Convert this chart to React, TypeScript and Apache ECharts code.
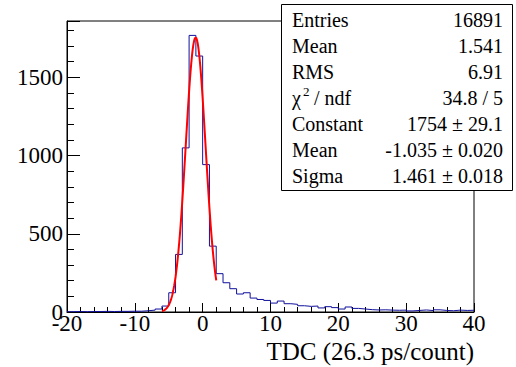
import React, { useEffect, useRef } from "react";
import * as echarts from "echarts";

// Histogram: bins of width 1 starting at -20
const binStart = -20;
const binWidth = 1;
const binCounts = [
  2, 3, 2, 3, 3, 4, 3, 4, 4, 5,
  5, 8, 12, 19, 38, 123, 368, 1049, 1768, 1636,
  942, 421, 245, 187, 149, 115, 123, 89, 80, 74,
  57, 70, 53, 49, 40, 36, 38, 26, 34, 28,
  19, 32, 23, 19, 15, 13, 14, 12, 11, 12,
  7, 10, 13, 9, 14, 10, 8, 12, 10, 11,
];

// Axis ranges / ticks
const xMin = -20;
const xMax = 40;
const xInterval = 10;
const yMin = 0;
const yMax = 1860;
const yInterval = 500;
const yMinorInterval = 100;

// Gaussian fit parameters (from stats box)
const fitConstant = 1754;
const fitMean = -1.035;
const fitSigma = 1.461;
const fitRange = [-6, 2];

// Stats box
const statsLabels = ["Entries", "Mean", "RMS", "χ2 / ndf", "Constant", "Mean", "Sigma"];
const statsValues = ["16891", "1.541", "6.91", "34.8 / 5", "1754 ± 29.1", "-1.035 ± 0.020", "1.461 ± 0.018"];

const xTitle = "TDC (26.3 ps/count)";

const FONT = "Liberation Serif";

export default function App() {
  const ref = useRef<HTMLDivElement>(null);
  useEffect(() => {
    if (!ref.current) return;
    const chart = echarts.init(ref.current, null, { renderer: "svg" });

    const stepData: number[][] = [];
    binCounts.forEach((c, i) => {
      const lo = binStart + i * binWidth;
      stepData.push([lo, c], [lo + binWidth, c]);
    });

    const fitData: number[][] = [];
    const nPts = 160;
    for (let k = 0; k <= nPts; k++) {
      const x = fitRange[0] + ((fitRange[1] - fitRange[0]) * k) / nPts;
      const z = (x - fitMean) / fitSigma;
      fitData.push([x, fitConstant * Math.exp(-0.5 * z * z)]);
    }

    const boxX = 281.5, boxY = 4.5, boxW = 231, boxH = 186;
    const rowY0 = 20, rowStep = 26;
    const leftX = 292, rightX = 503;

    const txt = (text: string, x: number, y: number, size: number, align: string) => ({
      type: "text",
      z: 101,
      x,
      y,
      style: { text, fontFamily: FONT, fontSize: size, fill: "#000", verticalAlign: "middle", align },
    });

    const graphics: any[] = [
      {
        type: "rect",
        z: 100,
        shape: { x: boxX, y: boxY, width: boxW, height: boxH },
        style: { fill: "#fff", stroke: "#000", lineWidth: 1 },
      },
    ];
    statsLabels.forEach((lab, i) => {
      const y = rowY0 + i * rowStep;
      if (lab.startsWith("χ2")) {
        graphics.push(
          txt("χ", leftX, y, 20, "left"),
          txt("2", leftX + 11, y - 7, 13, "left"),
          txt("/ ndf", leftX + 22, y, 20, "left")
        );
      } else {
        graphics.push(txt(lab, leftX, y, 20, "left"));
      }
      graphics.push(txt(statsValues[i], rightX, y, 20, "right"));
    });
    graphics.push(txt(xTitle, 474, 351, 25, "right"));

    chart.setOption({
      animation: false,
      backgroundColor: "#fff",
      grid: {
        left: 67,
        right: 42,
        top: 21,
        bottom: 55,
        show: true,
        borderColor: "#000",
        borderWidth: 1,
        backgroundColor: "transparent",
      },
      xAxis: {
        type: "value",
        min: xMin,
        max: xMax,
        interval: xInterval,
        axisLine: { show: true, onZero: false, lineStyle: { color: "#000", width: 1 } },
        axisTick: { show: true, inside: true, length: 9, lineStyle: { color: "#000" } },
        minorTick: { show: true, splitNumber: 5, length: 5, lineStyle: { color: "#000" } },
        splitLine: { show: false },
        axisLabel: { color: "#000", fontFamily: FONT, fontSize: 23, margin: 0 },
      },
      yAxis: [
        {
          type: "value",
          min: yMin,
          max: yMax,
          interval: yInterval,
          axisLine: { show: true, onZero: false, lineStyle: { color: "#000", width: 1 } },
          axisTick: { show: true, inside: true, length: 13, lineStyle: { color: "#000" } },
          splitLine: { show: false },
          axisLabel: {
            color: "#000",
            fontFamily: FONT,
            fontSize: 23,
            margin: 4,
            formatter: (v: number) => (v % yInterval === 0 ? String(v) : ""),
          },
        },
        {
          type: "value",
          position: "left",
          min: yMin,
          max: yMax,
          interval: yMinorInterval,
          axisLine: { show: false, onZero: false },
          axisTick: { show: true, inside: true, length: 7, lineStyle: { color: "#000" } },
          splitLine: { show: false },
          axisLabel: { show: false },
        },
      ],
      series: [
        {
          type: "line",
          data: stepData,
          yAxisIndex: 0,
          showSymbol: false,
          symbol: "none",
          lineStyle: { color: "#10109c", width: 1 },
          z: 3,
        },
        {
          type: "line",
          data: fitData,
          yAxisIndex: 0,
          showSymbol: false,
          symbol: "none",
          smooth: false,
          lineStyle: { color: "#ff0000", width: 2 },
          z: 4,
        },
      ],
      graphic: graphics,
    });
    return () => chart.dispose();
  }, []);
  return <div ref={ref} style={{ position: "absolute", left: 0, top: 0, width: 516, height: 367 }} />;
}
